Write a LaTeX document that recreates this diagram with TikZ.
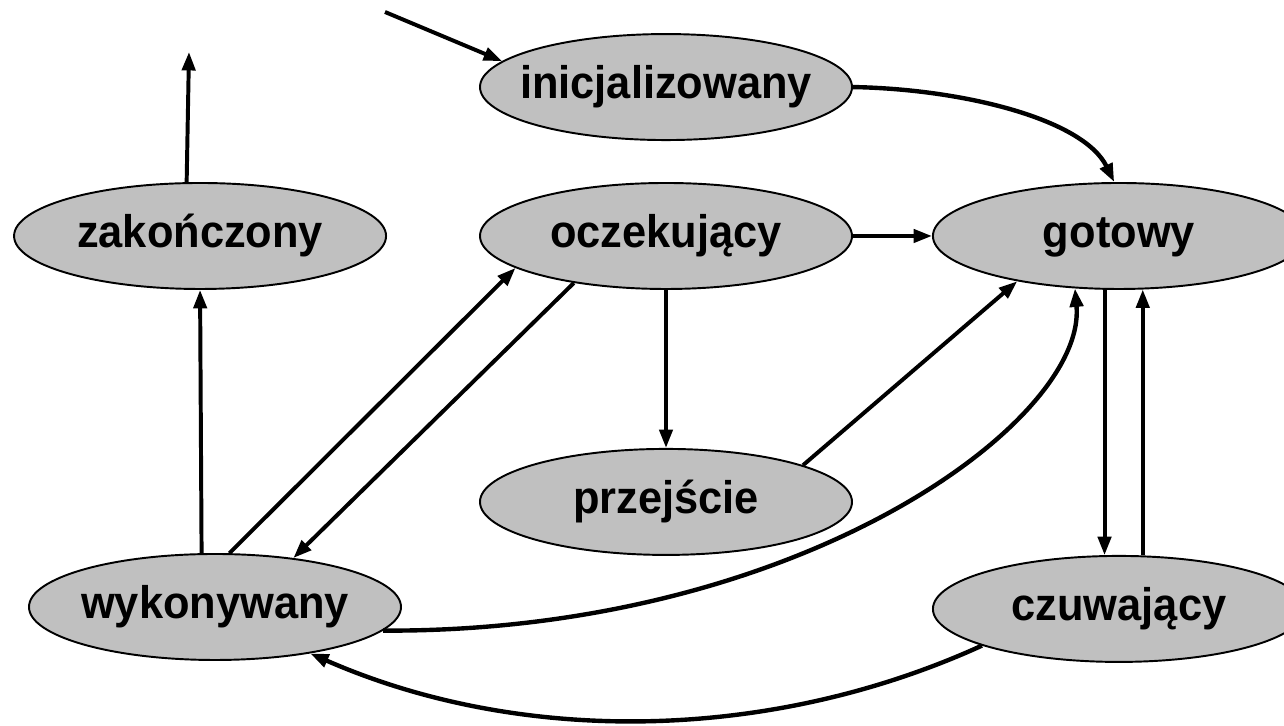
\documentclass[tikz,border=0pt]{standalone}
\usepackage{fontspec}
\setmainfont{Liberation Sans}[FakeStretch=0.95]
\usepackage{tikz}
\usetikzlibrary{arrows.meta,positioning,shapes.geometric}
\definecolor{stategray}{RGB}{192,192,192}

\begin{document}
\begin{tikzpicture}[
  x=0.2mm,y=0.2mm,
  state/.style={ellipse,draw=black,line width=1.1pt,fill=stategray,minimum width=7.44cm,minimum height=2.12cm,inner sep=0pt,
    font=\bfseries\fontsize{26}{30}\selectfont,text height=18.7pt,text depth=5.2pt,
    execute at begin node={\hbox to 0pt\bgroup\hss},execute at end node={\hss\egroup}},
  arrow/.style={-{Triangle[length=10.5pt,width=7.5pt]},line width=2.25pt}
]
\useasboundingbox (0,0) rectangle (1284,726);
\node[state] (oczekujacy) at (666,490) {oczekujący};
\node[state,above=0.82cm of oczekujacy] (inicjalizowany) {inicjalizowany};
\node[state,right=1.58cm of oczekujacy] (gotowy) {gotowy};
\node[state,left=1.84cm of oczekujacy] (zakonczony) {zakończony};
\node[state,below=3.16cm of oczekujacy] (przejscie) {przejście};
\node[state,below=5.3cm of gotowy] (czuwajacy) {czuwający};
\node[state] (wykonywany) at (215,119) {wykonywany};
\coordinate (wejscie) at (385,714);
\coordinate (wyjscie) at (189,674);
\draw[arrow] (wejscie) -- (inicjalizowany.171);
\draw[arrow,line width=2.5pt] (inicjalizowany.east) .. controls +(110,-2) and +(-31,63) .. (gotowy.95);
\draw[arrow] (oczekujacy) -- (gotowy);
\draw[arrow] (oczekujacy) -- (przejscie);
\draw[arrow] (przejscie.15) -- (gotowy.204);
\draw[arrow] (wykonywany.75) -- (oczekujacy.192);
\draw[arrow] (oczekujacy.207) -- (wykonywany.32);
\draw[arrow] (wykonywany.104) -- (zakonczony.south);
\draw[arrow] (zakonczony.104) -- (wyjscie);
\draw[arrow] (gotowy.255) -- (czuwajacy.105);
\draw[arrow] (czuwajacy.66) -- (gotowy.294);
\draw[arrow,line width=2.5pt] (wykonywany.352) .. controls +(418,-2) and +(12,-132) .. (gotowy.230);
\draw[arrow,line width=2.5pt] (czuwajacy.195) .. controls +(-213,-97) and +(210,-92) .. (wykonywany.334);
\end{tikzpicture}
\end{document}
